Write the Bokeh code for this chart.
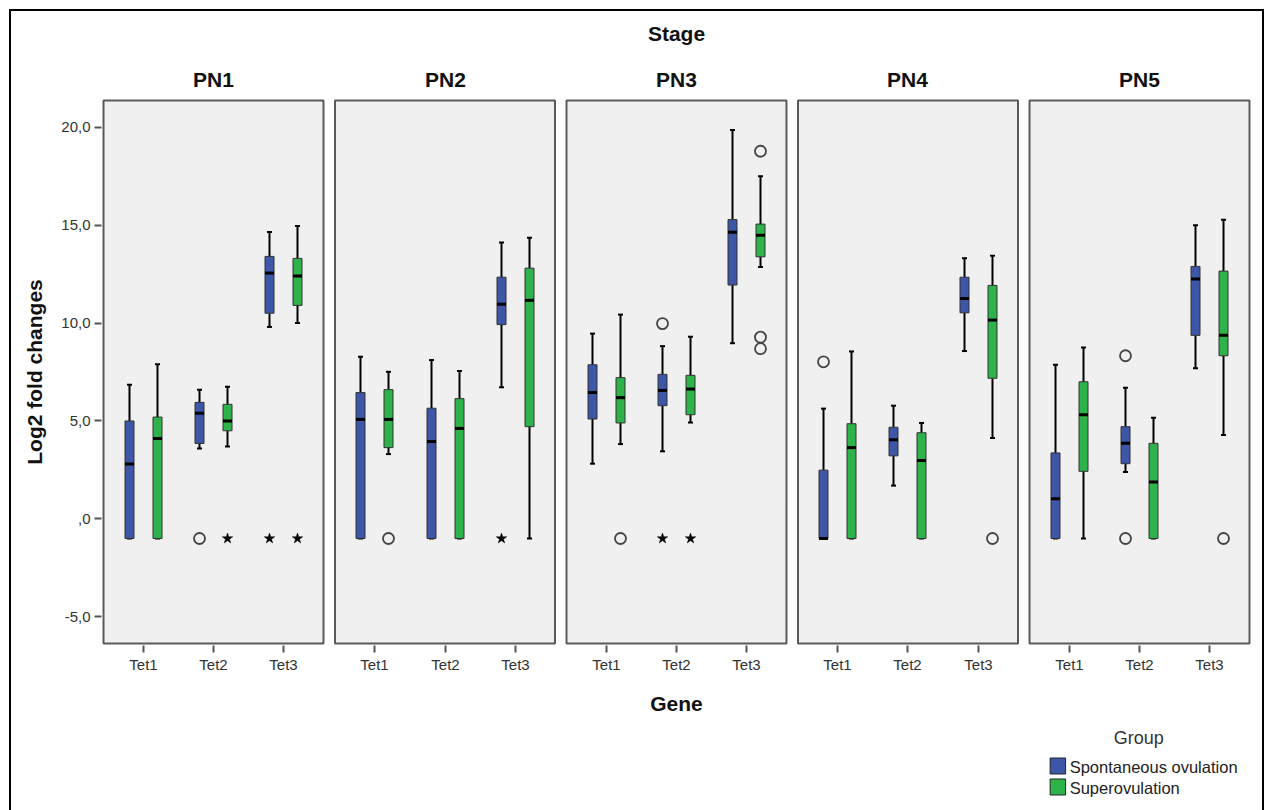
from bokeh.plotting import figure
from bokeh.layouts import column
from bokeh.models import (Range1d, FixedTicker, LinearAxis, ColumnDataSource, InlineStyleSheet)
from bokeh.core.properties import value
from bokeh.embed import file_html
from bokeh.resources import INLINE

# ---------------- data ----------------
stages = ["PN1", "PN2", "PN3", "PN4", "PN5"]
genes = ["Tet1", "Tet2", "Tet3"]
groups = ["Spontaneous ovulation", "Superovulation"]

# order: PN1 Tet1, PN1 Tet2, PN1 Tet3, PN2 Tet1, ...
spont_low  = [-1, 3.60, 9.80,  -1, -1, 6.72,  2.82, 3.45, 8.97,  -1, 1.70, 8.57,  -1, 2.40, 7.69]
spont_q1   = [-1, 3.85, 10.50, -1, -1, 9.92,  5.10, 5.78, 11.94, -1, 3.22, 10.52, -1, 2.82, 9.37]
spont_med  = [2.80, 5.40, 12.55, 5.08, 3.95, 10.96, 6.45, 6.56, 14.63, -1, 4.04, 11.25, 1.03, 3.86, 12.25]
spont_q3   = [5.00, 5.95, 13.40, 6.45, 5.65, 12.34, 7.87, 7.38, 15.28, 2.49, 4.68, 12.34, 3.37, 4.71, 12.89]
spont_high = [6.85, 6.60, 14.65, 8.28, 8.11, 14.11, 9.46, 8.82, 19.86, 5.63, 5.78, 13.31, 7.87, 6.69, 14.99]

super_low  = [-1, 3.70, 10.00, 3.31, -1, -1,    3.82, 4.92, 12.86, -1, -1, 4.13,  -1, -1, 4.28]
super_q1   = [-1, 4.50, 10.90, 3.64, -1, 4.71,  4.90, 5.32, 13.38, -1, -1, 7.18,  2.43, -1, 8.33]
super_med  = [4.10, 5.00, 12.40, 5.08, 4.62, 11.16, 6.19, 6.63, 14.48, 3.64, 2.98, 10.15, 5.32, 1.89, 9.37]
super_q3   = [5.20, 5.85, 13.30, 6.60, 6.14, 12.80, 7.21, 7.33, 15.05, 4.86, 4.40, 11.92, 7.00, 3.86, 12.65]
super_high = [7.90, 6.75, 14.95, 7.51, 7.55, 14.35, 10.43, 9.30, 17.49, 8.55, 4.90, 13.44, 8.75, 5.17, 15.27]

out_stage = [0, 0, 0, 0, 1, 1, 2, 2, 2, 2, 2, 2, 2, 3, 3, 4, 4, 4]
out_gene  = [1, 1, 2, 2, 0, 2, 0, 1, 1, 1, 2, 2, 2, 0, 2, 1, 1, 2]
out_group = [0, 1, 0, 1, 1, 0, 1, 0, 0, 1, 1, 1, 1, 0, 1, 0, 0, 1]
out_value = [-1, -1, -1, -1, -1, -1, -1, 9.97, -1, -1, 18.77, 9.28, 8.69, 8.02, -1, 8.33, -1, -1]
out_kind  = ["circle", "star", "star", "star", "circle", "star", "circle", "circle", "star", "star",
             "circle", "circle", "circle", "circle", "circle", "circle", "circle", "circle"]

y_ticks = [-5, 0, 5, 10, 15, 20]
y_tick_labels = ["-5,0", ",0", "5,0", "10,0", "15,0", "20,0"]

colors = ["#3D56A8", "#2DB34A"]

# ---------------- layout constants ----------------
STEP = 231.5      # panel step (x units = px)
PW = 220          # panel width
PAD = 39.75       # first category offset inside panel
CAT = 70.25       # category spacing
OFF = 14          # group offset from category centre
BW = 9            # box width
CAPW = 2.5        # half cap width
Y_LO, Y_HI = -6.36, 21.36
PXU = 543 / (Y_HI - Y_LO)
FONT = "Liberation Sans"
H_MAIN = 720

cat_x = [round(si * STEP + PAD + gi * CAT) for si in range(len(stages)) for gi in range(len(genes))]
panel_c = [round(si * STEP + PW / 2) for si in range(len(stages))]

p = figure(width=1265, height=H_MAIN,
           x_range=Range1d(-2, 1148),
           y_range=Range1d(Y_LO - 2 / PXU, Y_HI + 2 / PXU),
           min_border_left=101, min_border_right=14, min_border_top=98,
           min_border_bottom=H_MAIN - 645,
           background_fill_color="white", border_fill_color="white",
           outline_line_color=None, output_backend="svg", toolbar_location=None)
p.xgrid.visible = False
p.ygrid.visible = False

# panels
pl = [si * STEP for si in range(len(stages))]
p.quad(left=pl, right=[v + PW for v in pl], bottom=[Y_LO] * len(pl), top=[Y_HI] * len(pl),
       fill_color="#F0F0F0", line_color="#5A5A5A", line_width=2)

series = [(spont_low, spont_q1, spont_med, spont_q3, spont_high),
          (super_low, super_q1, super_med, super_q3, super_high)]
for gi_, (lo, q1, md, q3, hi) in enumerate(series):
    sign = -1 if gi_ == 0 else 1
    xs = [c + sign * OFF for c in cat_x]
    src = ColumnDataSource(dict(x=xs, lo=lo, q1=q1, md=md, q3=q3, hi=hi,
                                xl=[x - BW / 2 for x in xs], xr=[x + BW / 2 for x in xs],
                                cl=[x - CAPW for x in xs], cr=[x + CAPW for x in xs]))
    p.segment(x0="x", y0="q3", x1="x", y1="hi", source=src, line_color="black", line_width=2)
    p.segment(x0="x", y0="lo", x1="x", y1="q1", source=src, line_color="black", line_width=2)
    p.segment(x0="cl", y0="hi", x1="cr", y1="hi", source=src, line_color="black", line_width=2)
    p.segment(x0="cl", y0="lo", x1="cr", y1="lo", source=src, line_color="black", line_width=2)
    p.vbar(x="x", width=BW, bottom="q1", top="q3", source=src,
           fill_color=colors[gi_], line_color="#333333", line_width=1)
    p.segment(x0="xl", y0="md", x1="xr", y1="md", source=src, line_color="black", line_width=3,
              line_cap="butt")

ox = [cat_x[s * 3 + g] + (-OFF if grp == 0 else OFF) for s, g, grp in zip(out_stage, out_gene, out_group)]
circ = [i for i, k in enumerate(out_kind) if k == "circle"]
star = [i for i, k in enumerate(out_kind) if k == "star"]
p.scatter(x=[ox[i] for i in circ], y=[out_value[i] for i in circ], marker="circle", size=11,
          fill_color=None, line_color="#444444", line_width=1.8)
p.scatter(x=[ox[i] for i in star], y=[out_value[i] for i in star], marker="star", size=11,
          fill_color="black", line_color="black", line_width=0.5)

# axes
p.yaxis.ticker = FixedTicker(ticks=y_ticks)
p.yaxis.major_label_overrides = {t: l for t, l in zip(y_ticks, y_tick_labels)}
p.xaxis.ticker = FixedTicker(ticks=cat_x)
p.xaxis.major_label_overrides = {x: genes[i % 3] for i, x in enumerate(cat_x)}
for ax in (p.xaxis, p.yaxis):
    ax.axis_line_color = None
    ax.major_tick_line_color = "#555555"
    ax.major_tick_line_width = 2
    ax.major_tick_out = 7
    ax.major_tick_in = 0
    ax.minor_tick_line_color = None
    ax.major_label_text_font = FONT
    ax.major_label_text_font_size = "15px"
    ax.major_label_text_color = "#333333"
    ax.major_label_standoff = 4
    ax.axis_label_text_font = FONT
    ax.axis_label_text_font_size = "21px"
    ax.axis_label_text_font_style = "bold"
    ax.axis_label_text_color = "#111111"
p.yaxis.axis_label = "Log2 fold changes"
p.yaxis.axis_label_standoff = 12
p.xaxis.major_label_standoff = 3
p.xaxis.axis_label = "Gene"
p.xaxis.axis_label_standoff = 16

# stage axis on top (panel titles + "Stage")
top_ax = LinearAxis(ticker=FixedTicker(ticks=panel_c),
                    major_label_overrides={c: s for c, s in zip(panel_c, stages)},
                    axis_line_color=None, major_tick_line_color=None, minor_tick_line_color=None,
                    major_tick_out=0, major_tick_in=0, major_label_standoff=8,
                    major_label_text_font=FONT, major_label_text_font_size="21px",
                    major_label_text_font_style="bold", major_label_text_color="#111111",
                    axis_label="Stage", axis_label_standoff=20,
                    axis_label_text_font=FONT, axis_label_text_font_size="21px",
                    axis_label_text_font_style="bold", axis_label_text_color="#111111")
p.add_layout(top_ax, "above")

# ---------------- legend strip (drawn in its own small figure) ----------------
H_LEG = 810 - H_MAIN
leg = figure(width=1265, height=H_LEG, x_range=Range1d(0, 1265), y_range=Range1d(0, H_LEG),
             x_axis_type=None, y_axis_type=None, min_border=0,
             min_border_left=0, min_border_right=0, min_border_top=0, min_border_bottom=0,
             background_fill_color="white", border_fill_color="white",
             outline_line_color=None, output_backend="svg", toolbar_location=None)
leg.xgrid.visible = False
leg.ygrid.visible = False
sw_y = [810 - 765.5, 810 - 786.5]
leg.rect(x=[1052, 1052], y=sw_y, width=17, height=16, fill_color=colors,
         line_color="#222222", line_width=1)
leg.text(x=[1065, 1065], y=[810 - 766.5, 810 - 787.5], text=groups, text_font=value(FONT),
         text_font_size=value("16.5px"), text_color="#222222", text_baseline="middle",
         text_align="left")
leg.text(x=[1141], y=[810 - 737], text=["Group"], text_font=value(FONT),
         text_font_size=value("18px"), text_color="#333333", text_baseline="middle",
         text_align="center")

frame_css = InlineStyleSheet(css=""":host::after { content: ''; position: absolute; left: 9px; top: 9px;
  width: 1255px; height: 801px; box-sizing: border-box; border: 2px solid black;
  border-bottom: none; pointer-events: none; }""")

layout = column(p, leg, spacing=0, stylesheets=[frame_css])

open("out.html", "w").write(file_html(layout, INLINE))
